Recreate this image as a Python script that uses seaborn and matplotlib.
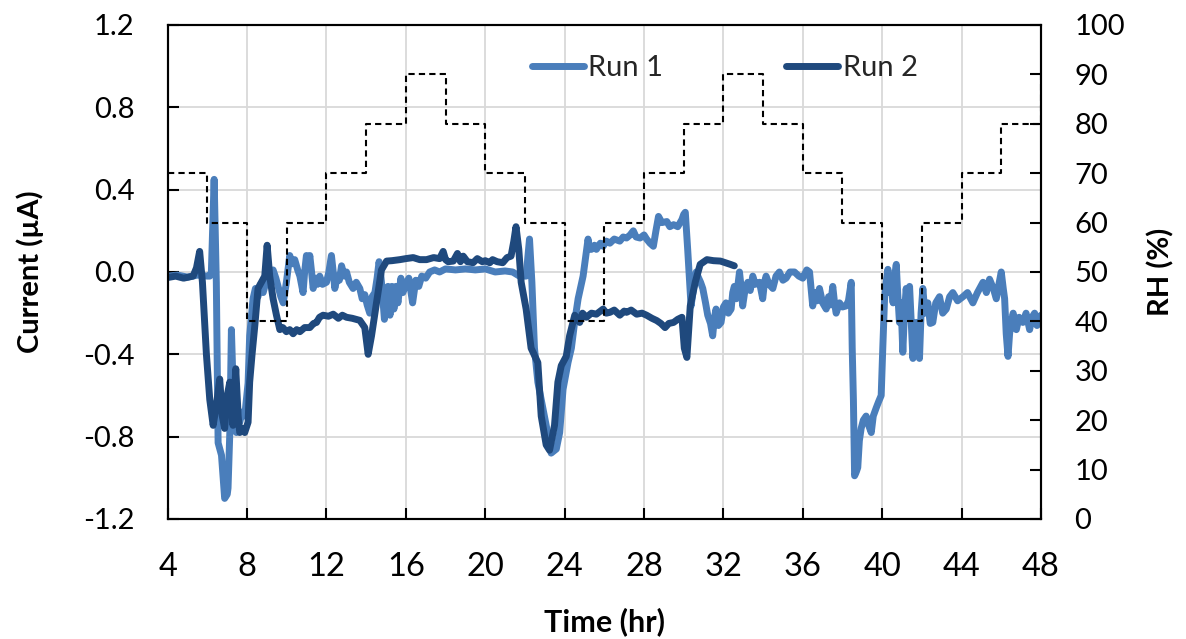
import matplotlib
matplotlib.use("Agg")
import matplotlib.pyplot as plt
import seaborn as sns
import pandas as pd

# Run 1 current trace (time in hr, current in µA)
run1_time = [4.0, 4.5, 5.0, 5.5, 6.0, 6.12, 6.2, 6.34, 6.45, 6.54, 6.71, 6.87, 7.0, 7.04, 7.13,
             7.21, 7.29, 7.38, 7.46, 7.55, 7.63, 7.75, 7.88, 8.05, 8.13, 8.3, 8.42, 8.55, 8.68,
             8.81, 8.95, 9.06, 9.2, 9.31, 9.45, 9.56, 9.7, 9.82, 9.98, 10.15, 10.28, 10.4,
             10.55, 10.66, 10.82, 10.9, 10.99, 11.08, 11.16, 11.25, 11.33, 11.45, 11.55, 11.66,
             11.8, 12.0, 12.12, 12.25, 12.34, 12.42, 12.55, 12.65, 12.76, 12.9, 13.01, 13.15,
             13.34, 13.5, 13.68, 13.8, 13.93, 14.05, 14.18, 14.3, 14.44, 14.55, 14.65, 14.72,
             14.8, 14.92, 15.0, 15.1, 15.2, 15.3, 15.4, 15.5, 15.6, 15.75, 15.85, 16.0, 16.15,
             16.34, 16.5, 16.65, 16.8, 17.0, 17.2, 17.45, 17.7, 18.0, 18.5, 19.0, 19.5, 20.0,
             20.5, 21.0, 21.38, 21.72, 22.06, 22.23, 22.35, 22.48, 22.65, 22.90, 23.16, 23.32,
             23.58, 23.75, 23.92, 24.17, 24.34, 24.51, 24.68, 24.93, 25.18, 25.25, 25.35, 25.5,
             25.6, 25.8, 25.94, 26.1, 26.28, 26.5, 26.78, 26.95, 27.12, 27.3, 27.46, 27.6,
             27.8, 28.0, 28.13, 28.3, 28.47, 28.6, 28.73, 28.9, 29.15, 29.3, 29.49, 29.7,
             29.91, 30.0, 30.08, 30.2, 30.37, 30.54, 30.63, 30.71, 30.85, 30.96, 31.1, 31.21,
             31.35, 31.46, 31.55, 31.63, 31.75, 31.88, 32.0, 32.13, 32.25, 32.39, 32.47, 32.55,
             32.65, 32.81, 32.9, 32.97, 33.1, 33.23, 33.35, 33.48, 33.6, 33.82, 33.98, 34.07,
             34.15, 34.3, 34.49, 34.65, 34.82, 35.0, 35.16, 35.35, 35.58, 35.8, 36.0, 36.2,
             36.34, 36.5, 36.6, 36.72, 36.84, 37.0, 37.18, 37.3, 37.4, 37.51, 37.6, 37.68,
             37.85, 38.0, 38.18, 38.3, 38.44, 38.49, 38.55, 38.61, 38.7, 38.77, 38.85, 38.94,
             39.05, 39.19, 39.3, 39.45, 39.55, 39.7, 39.82, 39.95, 40.03, 40.12, 40.2, 40.29,
             40.37, 40.45, 40.55, 40.63, 40.71, 40.78, 40.87, 40.95, 41.04, 41.12, 41.21, 41.3,
             41.38, 41.47, 41.55, 41.63, 41.71, 41.8, 41.88, 41.96, 42.05, 42.15, 42.3, 42.42,
             42.55, 42.7, 42.89, 43.05, 43.23, 43.4, 43.56, 43.8, 44.07, 44.3, 44.57, 44.8,
             45.08, 45.25, 45.41, 45.6, 45.75, 45.88, 46.0, 46.1, 46.17, 46.25, 46.34, 46.42,
             46.5, 46.6, 46.76, 46.9, 47.09, 47.25, 47.43, 47.55, 47.68, 47.8, 47.93, 48.0]
run1_current = [-0.02, -0.015, -0.025, -0.015, -0.02, -0.02, 0.0, 0.45, -0.05, -0.83, -0.89,
                -1.10, -1.08, -1.05, -0.78, -0.28, -0.54, -0.70, -0.78, -0.72, -0.73, -0.68,
                -0.70, -0.54, -0.31, -0.13, -0.08, -0.12, -0.06, -0.10, -0.05, -0.02, 0.0,
                0.01, -0.03, -0.07, -0.12, -0.15, -0.05, 0.08, 0.04, 0.06, 0.01, -0.02, -0.10,
                0.0, 0.08, 0.02, 0.08, 0.0, -0.08, -0.03, -0.06, -0.02, -0.06, -0.05, 0.0, 0.08,
                0.0, -0.08, -0.02, -0.04, 0.03, -0.02, 0.0, -0.05, -0.08, -0.05, -0.08, -0.13,
                -0.11, -0.16, -0.20, -0.12, -0.10, -0.03, 0.05, 0.0, -0.08, -0.23, -0.10, -0.07,
                -0.21, -0.07, -0.18, -0.07, -0.15, -0.03, -0.10, -0.06, -0.03, -0.15, -0.04,
                -0.07, -0.02, -0.03, 0.0, 0.01, 0.0, 0.015, 0.01, 0.015, 0.01, 0.015, 0.0,
                0.005, 0.0, -0.02, -0.02, 0.16, -0.05, -0.37, -0.535, -0.66, -0.79, -0.88,
                -0.86, -0.78, -0.57, -0.44, -0.37, -0.24, -0.13, -0.02, 0.16, 0.11, 0.11, 0.13,
                0.11, 0.14, 0.125, 0.15, 0.14, 0.16, 0.15, 0.17, 0.165, 0.18, 0.20, 0.17, 0.165,
                0.18, 0.16, 0.14, 0.125, 0.20, 0.27, 0.24, 0.245, 0.22, 0.23, 0.22, 0.255, 0.28,
                0.29, 0.11, -0.165, -0.05, 0.0, -0.02, -0.05, -0.08, -0.15, -0.21, -0.25, -0.31,
                -0.22, -0.18, -0.26, -0.245, -0.17, -0.15, -0.20, -0.18, -0.10, -0.07, -0.13,
                0.0, -0.08, -0.165, -0.08, -0.05, -0.09, -0.02, -0.06, -0.05, -0.13, -0.05,
                -0.02, -0.06, -0.08, -0.02, 0.0, -0.04, -0.03, 0.0, 0.0, -0.02, -0.03, 0.01,
                0.0, -0.165, -0.10, -0.14, -0.08, -0.15, -0.18, -0.12, -0.16, -0.07, -0.15,
                -0.20, -0.15, -0.17, -0.165, -0.14, -0.05, -0.37, -0.62, -0.99, -0.97, -0.95,
                -0.82, -0.76, -0.72, -0.70, -0.74, -0.78, -0.70, -0.66, -0.63, -0.60, -0.37,
                -0.13, -0.05, 0.013, -0.10, -0.05, -0.15, -0.02, 0.037, -0.10, -0.245, -0.15,
                -0.39, -0.20, -0.08, -0.20, -0.07, -0.25, -0.42, -0.30, -0.245, -0.35, -0.42,
                -0.20, -0.08, -0.20, -0.15, -0.25, -0.245, -0.15, -0.12, -0.20, -0.18, -0.12,
                -0.10, -0.14, -0.12, -0.10, -0.15, -0.10, -0.05, -0.10, -0.035, -0.08, -0.13,
                -0.06, 0.0, -0.08, -0.13, -0.30, -0.41, -0.30, -0.245, -0.20, -0.28, -0.22,
                -0.245, -0.20, -0.28, -0.22, -0.20, -0.26, -0.245, -0.21]

# Run 2 current trace (time in hr, current in µA)
run2_time = [4.0, 4.4, 4.8, 5.28, 5.45, 5.61, 5.75, 5.95, 6.12, 6.29, 6.45, 6.62, 6.75, 6.87,
             7.0, 7.13, 7.29, 7.43, 7.55, 7.63, 7.75, 7.88, 8.05, 8.13, 8.25, 8.39, 8.55, 8.72,
             8.89, 9.01, 9.14, 9.31, 9.48, 9.65, 9.8, 9.98, 10.15, 10.32, 10.5, 10.66, 10.9,
             11.16, 11.35, 11.5, 11.65, 11.83, 12.1, 12.34, 12.6, 12.8, 13.01, 13.3, 13.68,
             13.93, 14.10, 14.27, 14.52, 14.77, 15.03, 15.3, 15.7, 16.0, 16.37, 16.7, 17.04,
             17.4, 17.7, 17.88, 18.0, 18.13, 18.39, 18.6, 18.75, 18.89, 19.1, 19.39, 19.6,
             19.85, 20.0, 20.23, 20.37, 20.6, 20.88, 21.1, 21.30, 21.44, 21.55, 21.69, 21.81,
             22.06, 22.31, 22.65, 22.82, 23.07, 23.24, 23.49, 23.66, 23.83, 24.08, 24.25,
             24.51, 24.76, 24.9, 25.10, 25.35, 25.60, 25.94, 26.1, 26.28, 26.5, 26.78, 27.0,
             27.12, 27.35, 27.63, 27.9, 28.13, 28.4, 28.64, 28.85, 29.06, 29.25, 29.49, 29.7,
             29.91, 30.03, 30.16, 30.33, 30.58, 30.83, 31.17, 31.5, 31.85, 32.1, 32.35, 32.55]
run2_current = [-0.027, -0.02, -0.03, -0.02, 0.02, 0.10, -0.05, -0.40, -0.62, -0.745, -0.65,
                -0.52, -0.70, -0.76, -0.60, -0.535, -0.745, -0.47, -0.70, -0.78, -0.76, -0.78,
                -0.73, -0.535, -0.40, -0.26, -0.08, -0.05, -0.02, 0.13, -0.02, -0.13, -0.21,
                -0.28, -0.27, -0.29, -0.28, -0.30, -0.28, -0.29, -0.27, -0.27, -0.25, -0.245,
                -0.22, -0.21, -0.215, -0.205, -0.225, -0.21, -0.22, -0.225, -0.235, -0.27,
                -0.40, -0.31, -0.15, 0.01, 0.053, 0.055, 0.06, 0.065, 0.07, 0.06, 0.06, 0.07,
                0.065, 0.10, 0.06, 0.05, 0.053, 0.09, 0.05, 0.077, 0.05, 0.045, 0.065, 0.05,
                0.055, 0.045, 0.06, 0.05, 0.045, 0.07, 0.077, 0.15, 0.22, 0.11, -0.05, -0.18,
                -0.37, -0.44, -0.70, -0.84, -0.866, -0.745, -0.535, -0.455, -0.41, -0.31, -0.21,
                -0.245, -0.20, -0.22, -0.20, -0.205, -0.18, -0.20, -0.196, -0.185, -0.21, -0.19,
                -0.196, -0.185, -0.205, -0.20, -0.21, -0.225, -0.236, -0.25, -0.27, -0.25,
                -0.245, -0.23, -0.22, -0.37, -0.415, -0.165, -0.05, 0.037, 0.06, 0.055, 0.053,
                0.045, 0.037, 0.03]

# Relative-humidity programme (step changes every 2 hr)
rh_time = [4, 6, 8, 10, 12, 14, 16, 18, 20, 22, 24, 26, 28, 30, 32, 34, 36, 38, 40, 42, 44, 46, 48]
rh_level = [70, 60, 40, 60, 70, 80, 90, 80, 70, 60, 40, 60, 70, 80, 90, 80, 70, 60, 40, 60, 70, 80, 90]

x_ticks = list(range(4, 49, 4))
current_ticks = [-1.2, -0.8, -0.4, 0.0, 0.4, 0.8, 1.2]
rh_ticks = list(range(0, 101, 10))

run1_color = "#4a7ebb"
run2_color = "#1f497d"

sns.set_theme(style="white")
plt.rcParams["font.family"] = ["Lato", "DejaVu Sans"]

df1 = pd.DataFrame({"time": run1_time, "current": run1_current})
df2 = pd.DataFrame({"time": run2_time, "current": run2_current})
df_rh = pd.DataFrame({"time": rh_time, "rh": rh_level})

fig = plt.figure(figsize=(11.86, 6.39), dpi=100)
ax = fig.add_axes([0.1414, 0.1878, 0.7363, 0.7731])

ax.set_axisbelow(True)
ax.grid(True, color="#d9d9d9", linewidth=1.3)

sns.lineplot(data=df1, x="time", y="current", ax=ax, color=run1_color, linewidth=5,
             estimator=None, sort=False, label="Run 1", solid_joinstyle="round",
             solid_capstyle="round")
sns.lineplot(data=df2, x="time", y="current", ax=ax, color=run2_color, linewidth=5,
             estimator=None, sort=False, label="Run 2", solid_joinstyle="round",
             solid_capstyle="round")

ax.set_xlim(4, 48)
ax.set_ylim(-1.2, 1.2)
ax.set_xticks(x_ticks)
ax.set_yticks(current_ticks)
ax.set_yticklabels([f"{v:.1f}" for v in current_ticks])

ax2 = ax.twinx()
sns.lineplot(data=df_rh, x="time", y="rh", ax=ax2, color="black", linewidth=1.5,
             estimator=None, sort=False, drawstyle="steps-post", dashes=False)
ax2.lines[-1].set_linestyle((0, (3, 2)))
ax2.set_ylim(0, 100)
ax2.set_yticks(rh_ticks)
ax2.grid(False)

for a in (ax, ax2):
    for s in a.spines.values():
        s.set_color("black")
        s.set_linewidth(1.5)
        s.set_visible(True)

ax.tick_params(axis="both", direction="in", length=8, width=1.5, color="black",
               labelcolor="black")
ax.tick_params(axis="y", pad=24, left=True, labelsize=21)
ax.tick_params(axis="x", pad=24, bottom=True, labelsize=23.5)
ax2.tick_params(axis="y", direction="in", length=8, width=1.5, color="black",
                labelsize=21, labelcolor="black", pad=24, right=True)

ax.set_xlabel("Time (hr)", fontsize=22, fontweight="bold", color="black")
ax.set_ylabel("Current (µA)", fontsize=21, fontweight="bold", color="black")
ax2.set_ylabel("RH (%)", fontsize=21, fontweight="bold", color="black")
ax.xaxis.set_label_coords(0.5, -0.178)
ax.yaxis.set_label_coords(-0.142, 0.5)
ax2.yaxis.set_label_coords(1.122, 0.5)

ax.legend(loc="center", bbox_to_anchor=(0.611, 0.894), bbox_transform=fig.transFigure,
          ncol=2, frameon=False, fontsize=21, handlelength=1.8, handletextpad=0.15,
          columnspacing=4.2, borderaxespad=0)

fig.savefig("out.png", dpi=100)
